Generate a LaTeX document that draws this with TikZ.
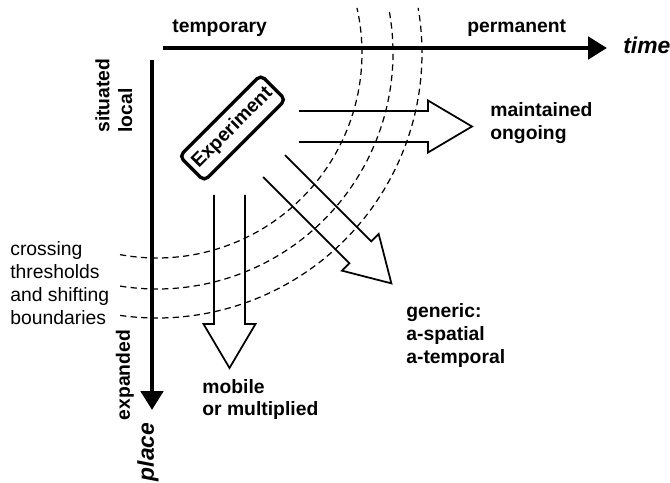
\documentclass[tikz,border=0pt]{standalone}
\usepackage{fontspec}
\setmainfont{Liberation Sans}
\usepackage{tikz}
\usetikzlibrary{arrows.meta}
\tikzset{axis/.style = {line width=2.6pt, -{Triangle[length=10.8pt, width=12.6pt]}},
         txt/.style = {font=\fontsize{11}{13}\selectfont, align=left, inner sep=0pt},
         lbl/.style = {txt, font=\fontsize{11}{13}\selectfont\bfseries},
         axlbl/.style = {txt, font=\fontsize{13}{15}\selectfont\bfseries\itshape},
         expbox/.style = {draw, line width=1.9pt, rounded corners=3pt, lbl,
                          minimum width=2.3cm, minimum height=0.7cm},
         blockline/.style = {line width=1pt, line join=miter},
         dashline/.style = {line width=0.7pt, dash pattern=on 3.6pt off 2.4pt}}
\newcommand{\blockarrow}[3]{%
  \draw[blockline, shift={(#1)}, rotate=#2]
    (0,-15.5) -- (#3-44,-15.5) -- (#3-44,-26) -- (#3,0)
    -- (#3-44,26) -- (#3-44,15.5) -- (0,15.5);}

\begin{document}
\begin{tikzpicture}[x=0.02cm, y=-0.02cm]
      \useasboundingbox (0,0) rectangle (670,483);
      % axes
      \coordinate (t0) at (163,48);
      \coordinate (t1) at (607,48);
      \coordinate (p0) at (152,60);
      \coordinate (p1) at (152,410);
      \draw [axis] (t0) -- (t1);
      \draw [axis] (p0) -- (p1);
      \node [lbl, anchor=west] (temporary) at (172,28.5) {temporary};
      \node [lbl, anchor=west] (permanent) at (467,28.5) {permanent};
      \node [axlbl, anchor=west] (time) at (623,45) {time};
      \node [axlbl, rotate=90] (place) at (148,452) {place};
      \node [lbl, rotate=90, anchor=north west] (local) at (95,133) {situated\\local};
      \node [lbl, rotate=90] (expanded) at (125,375) {expanded};

      \node [expbox, rotate=45] (exp) at (232.5,128) {Experiment};

      % block arrows
      \coordinate (m0) at (299,126.5);
      \coordinate (d0) at (229.5,195);
      \coordinate (g0) at (274,166);
      \blockarrow{m0}{0}{173}
      \blockarrow{d0}{-90}{173}
      \blockarrow{g0}{-45}{166}

      % thresholds
      \coordinate (ctr) at (157,53);
      \foreach \r/\a/\b in {205/100.4/-12.7, 236/99/-11, 265/98/-9.8}
        \draw [dashline] ([shift={(\a:\r)}]ctr) arc [start angle=\a, end angle=\b, radius=\r];

      \node [lbl, anchor=west] (ongoing) at (490,123) {maintained\\ongoing};
      \node [lbl, anchor=west] (generic) at (406,335.5) {generic:\\a-spatial\\a-temporal};
      \node [lbl, anchor=west] (mobile) at (202,399.5) {mobile\\or multiplied};
      \node [txt, anchor=west] (crossing) at (10,283) {crossing\\thresholds\\and shifting\\boundaries};
    \end{tikzpicture}
\end{document}
